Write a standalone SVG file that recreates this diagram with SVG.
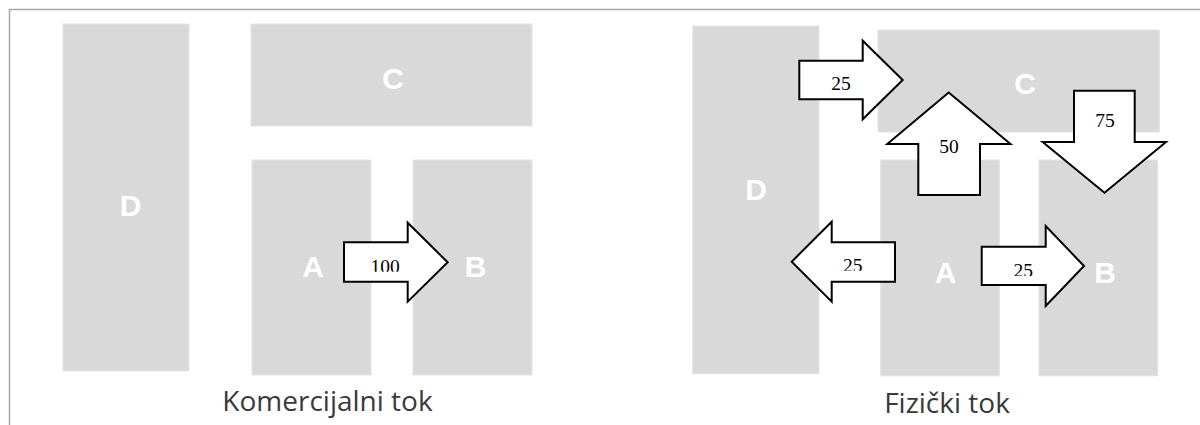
<svg xmlns="http://www.w3.org/2000/svg" width="1200" height="425" viewBox="0 0 1200 425">
  <style>
    .zone { fill: #d9d9d9; stroke: #e3e3e3; stroke-width: 1; }
    .tag { font-family: "Liberation Sans", Arial, sans-serif; font-weight: bold; font-size: 30px; fill: #ffffff; text-anchor: middle; }
    .flow { fill: #ffffff; stroke: #000000; stroke-width: 2; stroke-linejoin: miter; }
    .qty { font-family: "Liberation Serif", "Times New Roman", serif; font-size: 19.5px; fill: #000000; text-anchor: middle; }
    .caption { font-family: "Open Sans", "Noto Sans", sans-serif; font-size: 28px; fill: #3a3a3a; text-anchor: middle; }
    .frame { fill: none; stroke: #a6a6a6; stroke-width: 1.5; }
  </style>
  <defs>
    <!-- label boxes that cut off the bottom of some quantities -->
    <clipPath id="clip-100"><rect x="344" y="240" width="64" height="31.7"/></clipPath>
    <clipPath id="clip-ad"><rect x="820" y="240" width="75" height="30.7"/></clipPath>
    <clipPath id="clip-ab"><rect x="982" y="245" width="64" height="31"/></clipPath>
  </defs>

  <rect width="1200" height="425" fill="#ffffff"/>
  <path class="frame" d="M9.5,425 V9.5 H1200"/>

  <!-- Commercial flow -->
  <g id="comm-D"><rect class="zone" x="63" y="24" width="126" height="347"/><text class="tag" x="130.5" y="216">D</text></g>
  <g id="comm-C"><rect class="zone" x="251" y="24" width="281" height="102"/><text class="tag" x="393" y="88.5">C</text></g>
  <g id="comm-A"><rect class="zone" x="252" y="160" width="119" height="215"/><text class="tag" x="313" y="277">A</text></g>
  <g id="comm-B"><rect class="zone" x="413" y="160" width="119" height="215"/><text class="tag" x="475.5" y="277">B</text></g>

  <!-- Physical flow -->
  <g id="phys-D"><rect class="zone" x="692.7" y="26" width="126.3" height="347.7"/><text class="tag" x="756" y="200">D</text></g>
  <g id="phys-C"><rect class="zone" x="878" y="30" width="281.3" height="102"/><text class="tag" x="1025" y="94">C</text></g>
  <g id="phys-A"><rect class="zone" x="880.7" y="160" width="118.6" height="215.8"/><text class="tag" x="945.7" y="283">A</text></g>
  <g id="phys-B"><rect class="zone" x="1039" y="160" width="118.7" height="215.8"/><text class="tag" x="1105" y="283">B</text></g>

  <g id="connectors">
    <g id="comm-A-B">
      <path class="flow" d="M344,242.3 H407.7 V222.7 L447.7,262.3 L407.7,301.7 V281.7 H344 Z"/>
      <text class="qty" x="385" y="273" clip-path="url(#clip-100)">100</text>
    </g>
    <g id="phys-D-C">
      <path class="flow" d="M799.3,60.7 H862.7 V40.7 L902.7,80 L862.7,119.3 V99.3 H799.3 Z"/>
      <text class="qty" x="841" y="90">25</text>
    </g>
    <g id="phys-A-C">
      <path class="flow" d="M918.3,195 V144 H887.3 L948.7,92.5 L1010.5,144 H980 V195 Z"/>
      <text class="qty" x="949" y="152.7">50</text>
    </g>
    <g id="phys-C-B">
      <path class="flow" d="M1074,90.7 H1134.7 V142 H1166 L1104.5,192.7 L1042.7,142 H1074 Z"/>
      <text class="qty" x="1105" y="126.7">75</text>
    </g>
    <g id="phys-A-D">
      <path class="flow" d="M895,242.3 H831.7 V221.7 L791.7,261.7 L831.7,301.7 V281.7 H895 Z"/>
      <text class="qty" x="852.7" y="272" clip-path="url(#clip-ad)">25</text>
    </g>
    <g id="phys-A-B">
      <path class="flow" d="M981.7,246.7 H1045.7 V226 L1084,266 L1045.7,306 V285 H981.7 Z"/>
      <text class="qty" x="1023.3" y="277" clip-path="url(#clip-ab)">25</text>
    </g>
  </g>

  <text class="caption" x="327.5" y="411">Komercijalni tok</text>
  <text class="caption" x="947" y="412.6">Fizički tok</text>
</svg>
